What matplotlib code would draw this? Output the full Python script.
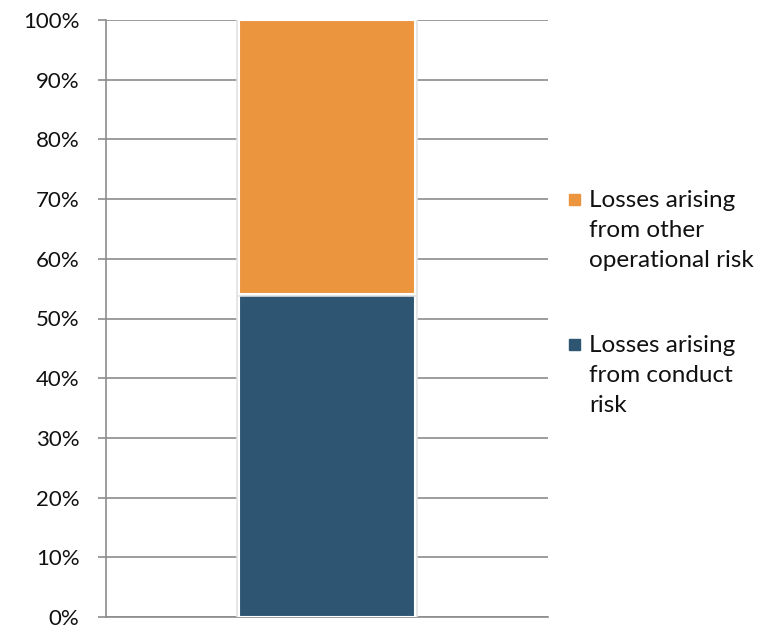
import matplotlib.pyplot as plt
import matplotlib.patheffects as pe
from matplotlib.patches import Rectangle
from matplotlib.ticker import PercentFormatter

# Share of operational risk losses (one stacked column)
categories = [""]
conduct_share = [54.1]
other_share = [45.9]
series_labels = ["Losses arising\nfrom conduct\nrisk", "Losses arising\nfrom other\noperational risk"]
series_colors = ["#2E5672", "#EC953F"]
y_ticks = [0, 10, 20, 30, 40, 50, 60, 70, 80, 90, 100]

plt.rcParams["font.family"] = ["Lato", "DejaVu Sans"]

fig = plt.figure(figsize=(7.71, 6.27), dpi=100)
ax = fig.add_axes([106 / 771, 10 / 627, 442 / 771, 597 / 627])

shadow = [pe.Stroke(linewidth=4, foreground="#e4e4e4"), pe.Normal()]
b1 = ax.bar(categories, conduct_share, width=0.4, color=series_colors[0],
            edgecolor="white", linewidth=1.5, zorder=3)
b2 = ax.bar(categories, other_share, bottom=conduct_share, width=0.4,
            color=series_colors[1], edgecolor="white", linewidth=1.5, zorder=3)
for bar in list(b1) + list(b2):
    bar.set_path_effects(shadow)

ax.set_xlim(-0.5, 0.5)
ax.set_ylim(0, 100)
ax.set_yticks(y_ticks)
ax.yaxis.set_major_formatter(PercentFormatter(decimals=0))
ax.set_xticks([])

ax.grid(axis="y", color="#8c8c8c", linewidth=1.2, zorder=0)
for side in ["top", "right"]:
    ax.spines[side].set_visible(False)
for side in ["left", "bottom"]:
    ax.spines[side].set_color("#8c8c8c")
    ax.spines[side].set_linewidth(1.2)
ax.tick_params(axis="y", length=6, width=1.2, color="#8c8c8c", pad=13,
               labelsize=16, labelcolor="#111111")

# legend drawn by hand so the marker sits on the first line
legend_rows = [(series_labels[1], series_colors[1], 199), (series_labels[0], series_colors[0], 344)]
for label, color, ypix in legend_rows:
    y = 1 - ypix / 627
    fig.add_artist(Rectangle((569 / 771, y - 6 / 627), 11 / 771, 11 / 627,
                             transform=fig.transFigure, color=color))
    fig.text(589 / 771, y + 9 / 627, label, ha="left", va="top",
             fontsize=17.5, color="#111111", linespacing=1.52)

fig.savefig("out.png", dpi=100)
